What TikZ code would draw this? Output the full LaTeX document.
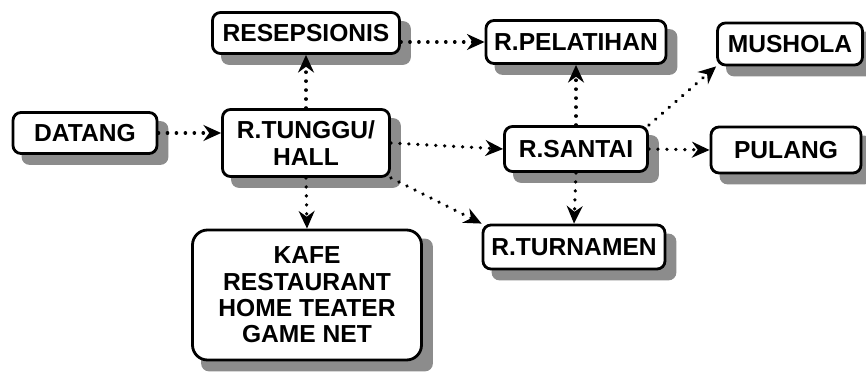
\documentclass[tikz,border=0pt]{standalone}
\usepackage{fontspec}
\setmainfont{Liberation Sans}
\usetikzlibrary{arrows.meta,backgrounds}
\begin{document}
\begin{tikzpicture}[
    room/.style={draw, line width=1.6pt, rounded corners=0.16cm, fill=white, inner sep=2pt,
        align=center, font=\fontsize{14}{15}\selectfont\bfseries},
    shade box/.style={fill=black!45, rounded corners=0.16cm},
    flow/.style={line width=2pt, line cap=round, dash pattern=on 0.1pt off 5pt,
        -{Stealth[length=10pt, width=9pt]}}
]
    \useasboundingbox (0,0) rectangle (17.32,-7.48);

    % kiri
    \node[room, minimum width=2.88cm, minimum height=0.82cm] (datang) at (1.70,-2.66) {DATANG};
    \node[room, minimum width=3.34cm, minimum height=1.34cm] (tunggu) at (6.12,-2.86) {R.TUNGGU/\\HALL};
    \node[room, minimum width=3.74cm, minimum height=0.82cm] (resepsionis) at (6.12,-0.66) {RESEPSIONIS};
    \node[room, rounded corners=0.3cm, minimum width=4.58cm, minimum height=2.60cm] (kafe) at (6.14,-5.90)
        {KAFE\\RESTAURANT\\HOME TEATER\\GAME NET};

    % kanan
    \node[room, minimum width=3.60cm, minimum height=0.86cm] (pelatihan) at (11.52,-0.84) {R.PELATIHAN};
    \node[room, minimum width=2.86cm, minimum height=0.90cm] (santai) at (11.52,-2.98) {R.SANTAI};
    \node[room, minimum width=3.64cm, minimum height=0.88cm] (turnamen) at (11.48,-4.94) {R.TURNAMEN};
    \node[room, minimum width=2.90cm, minimum height=0.84cm] (mushola) at (15.80,-0.88) {MUSHOLA};
    \node[room, minimum width=3.00cm, minimum height=0.92cm] (pulang) at (15.72,-3.00) {PULANG};

    % bayangan
    \begin{scope}[on background layer]
        \foreach \n in {datang, tunggu, resepsionis, kafe, pelatihan, santai, turnamen, mushola, pulang}
            \fill[shade box] ([xshift=0.2cm, yshift=-0.2cm]\n.south west) rectangle ([xshift=0.2cm, yshift=-0.2cm]\n.north east);
    \end{scope}

    % alur
    \draw[flow] (datang.east) -- (datang.east -| tunggu.west);
    \draw[flow] (tunggu.north) -- (resepsionis.south);
    \draw[flow] (resepsionis.east |- pelatihan) -- (pelatihan.west);
    \draw[flow] (tunggu.east) -- (santai.west);
    \draw[flow] (tunggu.south east) -- (turnamen.north west);
    \draw[flow] (tunggu.south) -- (kafe.north);
    \draw[flow] (santai.north) -- (pelatihan.south);
    \draw[flow] (santai.north east) -- (mushola.south west);
    \draw[flow] (santai.east) -- (pulang.west);
    \draw[flow] (santai.south) -- (turnamen.north);
\end{tikzpicture}
\end{document}
